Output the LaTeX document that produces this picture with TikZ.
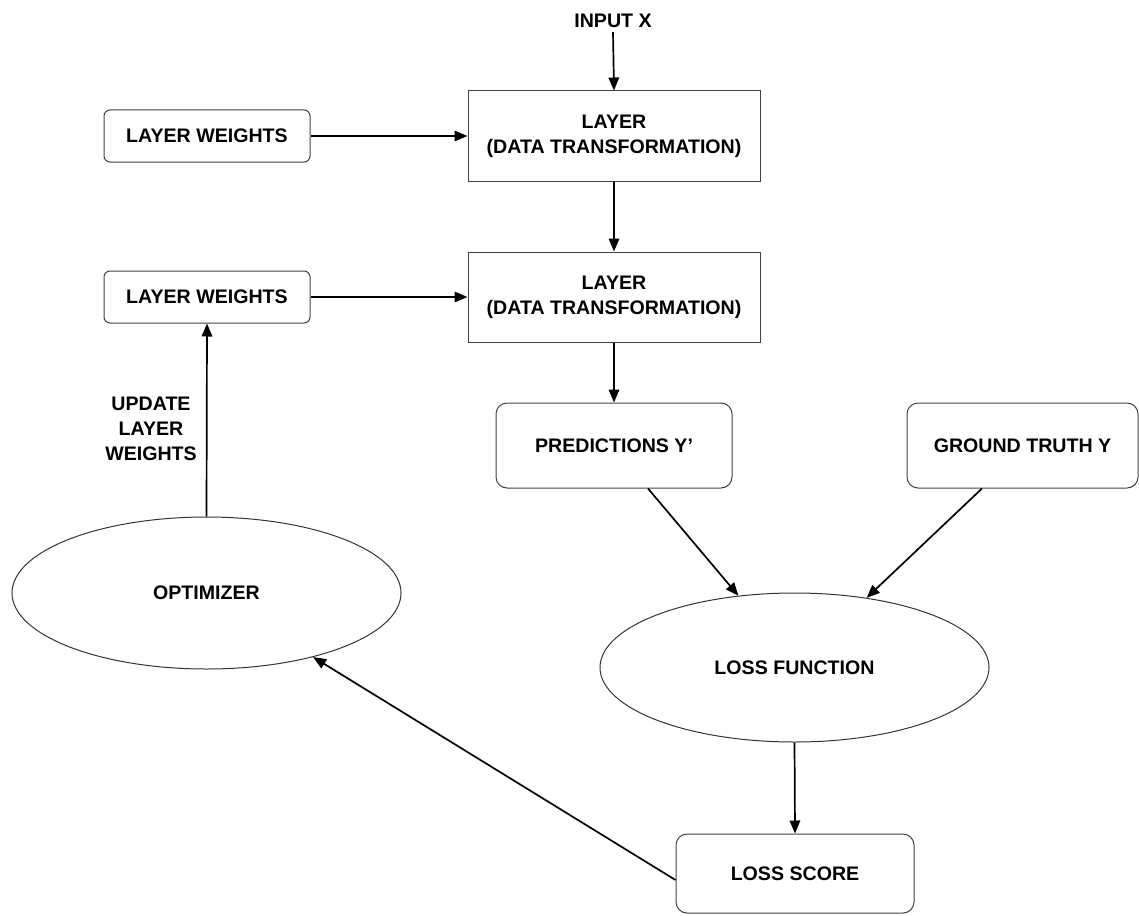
\documentclass[tikz,border=0pt]{standalone}
\usepackage{fontspec}
\setmainfont{Liberation Sans}
\usetikzlibrary{arrows.meta,shapes.geometric}
\begin{document}
\begin{tikzpicture}[x=1pt,y=-1pt,
  every node/.style={font=\fontsize{19.6}{25}\selectfont\bfseries, align=center},
  sqbox/.style={draw=black!75, line width=1pt, rectangle, inner sep=0pt},
  rbox/.style={draw=black!75, line width=1pt, rectangle, rounded corners=8pt, inner sep=0pt},
  ell/.style={draw=black!80, line width=1pt, ellipse, inner sep=0pt},
  arr/.style={draw=black, line width=1.7pt, -{Triangle[length=13pt,width=10.5pt]}}
]
\useasboundingbox (0,0) rectangle (1139,915);

\node (inp) at (613,21) [inner sep=4pt] {INPUT X};
\node[sqbox, minimum width=292pt, minimum height=90pt] (l1) at (614,136) {LAYER\\(DATA TRANSFORMATION)};
\node[sqbox, minimum width=292pt, minimum height=90pt] (l2) at (614,297) {LAYER\\(DATA TRANSFORMATION)};
\node[rbox, rounded corners=6pt, minimum width=206pt, minimum height=52pt] (w1) at (207,136) {LAYER WEIGHTS};
\node[rbox, rounded corners=6pt, minimum width=206pt, minimum height=52pt] (w2) at (207,297) {LAYER WEIGHTS};
\node[rbox, rounded corners=11pt, minimum width=236pt, minimum height=85pt] (pred) at (614,445.5) {PREDICTIONS Y’};
\node[rbox, rounded corners=11pt, minimum width=231pt, minimum height=85pt] (gt) at (1022.5,445.5) {GROUND TRUTH Y};
\node[ell, minimum width=389pt, minimum height=149pt] (lf) at (794.5,667.5) {LOSS FUNCTION};
\node[rbox, rounded corners=11pt, minimum width=238pt, minimum height=79pt] (ls) at (795,873.5) {LOSS SCORE};
\node[ell, minimum width=389pt, minimum height=152pt] (opt) at (206.5,593) {OPTIMIZER};
\node (upd) at (151,429) {UPDATE\\LAYER\\WEIGHTS};

\draw[arr] (inp.south) -- (l1.north);
\draw[arr] (w1.east) -- (l1.west);
\draw[arr] (l1.south) -- (l2.north);
\draw[arr] (w2.east) -- (l2.west);
\draw[arr] (l2.south) -- (pred.north);
\draw[arr] ([xshift=34pt]pred.south) -- (lf.128);
\draw[arr] ([xshift=-40.5pt]gt.south) -- (lf.44);
\draw[arr] (lf.south) -- (ls.north);
\draw[arr] ([yshift=-6.5pt]ls.west) -- (opt.-31);
\draw[arr] (opt.north) -- (w2.south);
\end{tikzpicture}
\end{document}
